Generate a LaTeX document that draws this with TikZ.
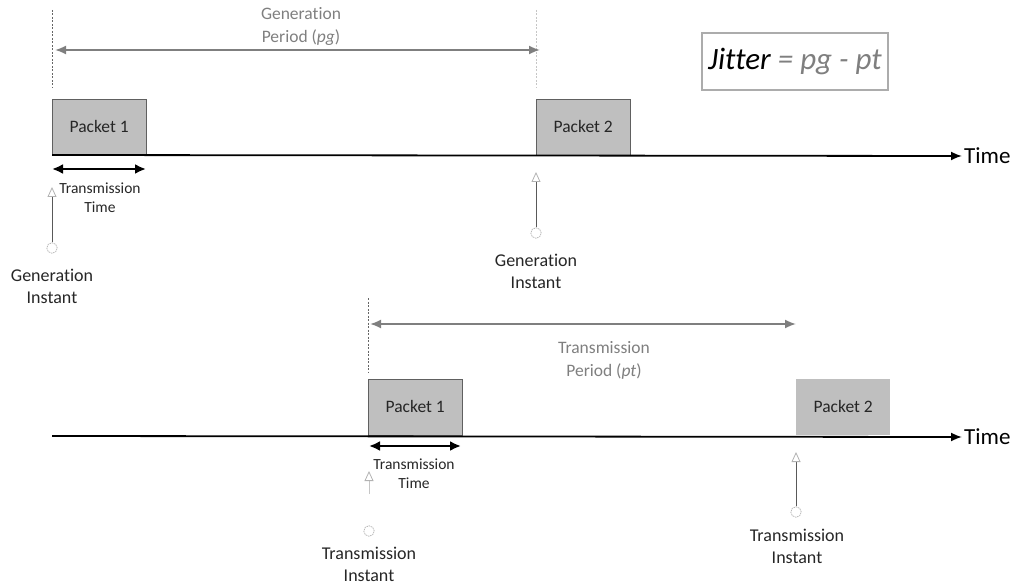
\documentclass[tikz,border=0pt]{standalone}
\usepackage{fontspec}
\setmainfont{Carlito}[Ligatures={NoCommon,TeX}]
\usetikzlibrary{arrows.meta,positioning}
\definecolor{pktgray}{HTML}{BFBFBF}
\definecolor{labgray}{HTML}{7F7F7F}
\definecolor{inkgray}{HTML}{262626}

\tikzset{
  packet/.style={rectangle, draw=gray!75!black, fill=pktgray, anchor=south west,
    minimum width=94pt, minimum height=56pt, inner sep=0pt, text=inkgray,
    font=\fontsize{17.5}{20}\selectfont},
  axis/.style={line width=1.8pt, -{Latex[length=11pt, width=9pt]}},
  timelbl/.style={anchor=west, inner sep=2pt, font=\fontsize{23}{27}\selectfont},
  guide/.style={draw=gray!80!black, line width=0.7pt, dash pattern=on 2pt off 1.5pt},
  period/.style={draw=labgray, line width=1.8pt, {Latex[length=11pt, width=9pt]}-{Latex[length=11pt, width=9pt]}},
  ttime/.style={line width=2.2pt, {Latex[length=11pt, width=10pt]}-{Latex[length=11pt, width=10pt]}},
  instant/.style={circle, draw=gray!60, dash pattern=on 1.5pt off 0.8pt, line width=0.7pt,
    minimum size=10.5pt, inner sep=0pt},
  inarrow/.style={draw=gray!70!black, line width=0.8pt,
    -{Triangle[open, length=10pt, width=9pt, color=gray!60]}},
  lbl/.style={align=center, inner sep=0pt, text=inkgray, font=\fontsize{18}{22}\selectfont},
  small/.style={align=center, inner sep=0pt, text=inkgray, font=\fontsize{15.5}{19}\selectfont},
  perlbl/.style={align=center, inner sep=0pt, text=labgray, font=\fontsize{17.5}{23}\selectfont},
}

\begin{document}
\begin{tikzpicture}[x=1pt, y=-1pt]
  \useasboundingbox (0,0) rectangle (1019,585);

  % generation side
  \coordinate (axa) at (52,155);
  \node[timelbl] (timea) at (962,156) {Time};
  \node[packet] (pkta) at (52,155) {Packet 1};
  \node[packet] (pktb) at (536,155) {Packet 2};
  \draw[axis] (axa) -- (timea.west);

  \coordinate (ga0) at (52,10);
  \coordinate (ga1) at (52,88);
  \coordinate (gb0) at (536,10);
  \coordinate (gb1) at (536,88);
  \draw[guide] (ga0) -- (ga1);
  \draw[guide, draw=gray!45] (gb0) -- (gb1);

  \coordinate (gpl) at (55,50);
  \coordinate (gpr) at (540,50);
  \draw[period] (gpl) -- (gpr);
  \node[perlbl] (gplbl) at (301,26) {Generation\\Period (\textit{pg})};

  \coordinate (tta) at (52,169);
  \coordinate (ttb) at (146,169);
  \draw[ttime] (tta) -- (ttb);
  \node[small] (ttlbl) at (100,198) {Transmission\\Time};

  \node[instant] (gena) at (52,248) {};
  \coordinate (genatip) at (52,187);
  \draw[inarrow] (gena) -- (genatip);
  \node[lbl] (genalbl) at (52,286) {Generation\\Instant};

  \node[instant] (genb) at (536,233) {};
  \coordinate (genbtip) at (536,172);
  \draw[inarrow] (genb) -- (genbtip);
  \node[lbl] (genblbl) at (536,271) {Generation\\Instant};

  \node[draw=gray!65, line width=1.6pt, minimum width=186pt, minimum height=57pt,
    inner sep=0pt, font=\fontsize{31}{36}\selectfont\itshape] (jit) at (795,61.5)
    {Jitter \textcolor{labgray}{= pg - pt}};

  % transmission side
  \coordinate (axb) at (52,436);
  \node[timelbl] (timeb) at (962,437) {Time};
  \node[packet] (pktc) at (368,435) {Packet 1};
  \node[packet, draw=none] (pktd) at (796,435) {Packet 2};
  \draw[axis] (axb) -- (timeb.west);

  \coordinate (gc0) at (368,298);
  \coordinate (gc1) at (368,372);
  \draw[guide] (gc0) -- (gc1);

  \coordinate (tpl) at (370,324);
  \coordinate (tpr) at (796,324);
  \draw[period] (tpl) -- (tpr);
  \node[perlbl] (tplbl) at (604,360) {Transmission\\Period (\textit{pt})};

  \coordinate (ttc) at (369,446);
  \coordinate (ttd) at (461,446);
  \draw[ttime] (ttc) -- (ttd);
  \node[small] (ttlblb) at (414,474) {Transmission\\Time};

  \node[instant] (trna) at (369,531) {};
  \coordinate (trnas) at (369,494);
  \coordinate (trnatip) at (369,471);
  \draw[inarrow, draw=gray!45] (trnas) -- (trnatip);
  \node[lbl] (trnalbl) at (369,564) {Transmission\\Instant};

  \node[instant] (trnb) at (796,512) {};
  \coordinate (trnbtip) at (796,452);
  \draw[inarrow] (trnb) -- (trnbtip);
  \node[lbl] (trnblbl) at (797,546) {Transmission\\Instant};
\end{tikzpicture}
\end{document}
